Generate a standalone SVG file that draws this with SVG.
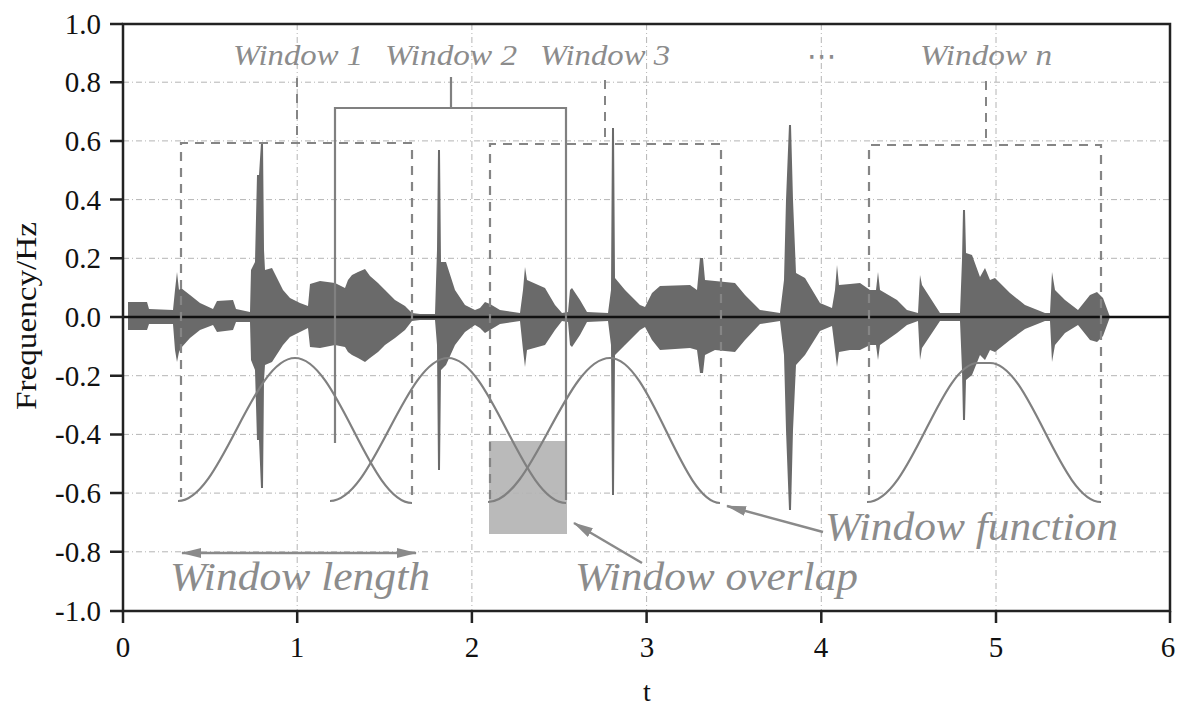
<svg xmlns="http://www.w3.org/2000/svg" width="1182" height="713" viewBox="0 0 1182 713">
<style>
.grid{stroke:#b4b4b4;stroke-width:1;stroke-dasharray:6 3 1 3;fill:none}
.win{stroke:#858585;stroke-width:2.2;stroke-dasharray:9 7;fill:none}
.wconn{stroke:#858585;stroke-width:2;stroke-dasharray:9 7;fill:none}
.curve{stroke:#808080;stroke-width:2.2;fill:none}
.brk{stroke:#808080;stroke-width:2.2;fill:none}
.lbl{font-family:'Liberation Serif','LiberationSerif','Times New Roman',Times,serif;font-style:italic;fill:#8c8c8c}
.tick{font-family:'Liberation Serif','LiberationSerif','Times New Roman',Times,serif;font-size:29px;fill:#111}
.arr{stroke:#8a8a8a;stroke-width:2.5;fill:none}
.ax{stroke:#222;stroke-width:2.5;fill:none}
</style>
<defs>
<marker id="ah" viewBox="0 0 20 10" refX="19" refY="5" markerWidth="20" markerHeight="10" markerUnits="userSpaceOnUse" orient="auto-start-reverse">
<path d="M0,0 L20,5 L0,10 Z" fill="#8a8a8a"/>
</marker>
</defs>
<rect width="1182" height="713" fill="#fff"/>

<g id="overlap-box"><rect x="489" y="441" width="78" height="93" fill="#bababa"/></g>

<g id="grid">
<path class="grid" d="M123,82.2H1170M123,140.9H1170M123,199.6H1170M123,258.3H1170M123,375.7H1170M123,434.4H1170M123,493.1H1170M123,551.8H1170"/>
<path class="grid" d="M297.2,24V611M471.9,24V611M646.6,24V611M821.3,24V611M996,24V611"/>
</g>

<g id="signal">
<polygon fill="#6a6a6a" points="128,317 128,302 147,302 149,309 173,310 175,290 177,272 179,290 181,288 190,295 200,303 213,309 217,301 233,300 236,309 250,312 251,270 255,262 257,175 259,175 261,143 263,143 264,250 265,270 272,268 283,290 290,298 300,303 308,306 310,284 320,281 335,283 345,288 348,280 352,275 358,272 365,269 370,276 378,283 385,290 395,300 405,306 412,313 420,314 435,314 437,250 438,150 440,150 441,262 446,262 455,290 465,305 475,310 480,308 485,302 490,304 500,310 520,313 523,290 525,267 527,280 545,288 555,305 562,313 568,312 570,290 572,288 580,300 587,312 608,313 611,290 612,128 614,128 615,278 625,290 640,305 645,307 652,293 660,286 690,285 697,290 700,258 703,258 705,280 715,281 735,283 745,295 760,310 780,313 784,280 786,200 789,125 791,125 793,200 796,273 805,278 820,303 832,308 835,290 837,265 839,285 850,284 860,283 870,290 876,290 878,272 880,290 897,300 907,310 918,313 920,275 922,285 940,313 960,313 962,260 963,210 965,210 966,253 972,255 980,277 985,268 990,280 995,278 1010,293 1025,305 1045,313 1050,313 1052,272 1055,290 1065,300 1078,310 1082,305 1090,295 1097,292 1103,298 1110,317 1103,336 1097,342 1090,340 1082,330 1078,325 1065,333 1055,345 1052,362 1050,321 1045,321 1025,329 1010,340 995,352 990,350 985,360 980,355 972,375 966,380 965,420 963,420 962,370 960,321 940,321 922,348 920,360 918,321 907,325 897,333 880,345 878,360 876,345 870,345 860,350 850,350 839,352 837,367 835,350 832,326 820,331 805,355 796,365 793,430 791,510 789,510 786,430 784,355 780,321 760,324 745,340 735,352 715,350 705,355 703,373 700,373 697,350 690,348 660,350 652,340 645,327 640,330 625,345 615,355 614,495 612,495 611,345 608,321 587,322 580,335 572,347 570,345 568,322 562,321 555,330 545,345 527,350 525,367 523,350 520,321 500,324 490,330 485,333 480,328 475,325 465,332 455,345 446,365 441,370 440,470 438,470 437,345 435,320 420,320 412,321 405,330 395,338 385,345 378,352 370,358 365,362 358,358 352,355 348,352 345,347 335,345 320,348 310,347 308,328 300,332 290,337 283,345 272,362 265,365 264,380 263,488 261,488 259,440 257,440 255,370 251,360 250,322 236,322 233,330 217,332 213,325 200,330 190,338 181,348 179,352 177,362 175,350 173,324 149,324 147,330 128,330"/>
</g>

<g id="axes">
<line x1="123" y1="317" x2="1170" y2="317" stroke="#111" stroke-width="2.5"/>
<rect class="ax" x="123" y="24" width="1047" height="587"/>
<path class="ax" d="M110,24H123M110,82.2H123M110,140.9H123M110,199.6H123M110,258.3H123M110,317H123M110,375.7H123M110,434.4H123M110,493.1H123M110,551.8H123M110,611H123"/>
<path class="ax" d="M123,611V623M297.2,611V623M471.9,611V623M646.6,611V623M821.3,611V623M996,611V623M1170,611V623"/>
<g class="tick" text-anchor="end">
<text x="101" y="34">1.0</text>
<text x="101" y="92">0.8</text>
<text x="101" y="151">0.6</text>
<text x="101" y="210">0.4</text>
<text x="101" y="268">0.2</text>
<text x="101" y="327">0.0</text>
<text x="101" y="386">-0.2</text>
<text x="101" y="444">-0.4</text>
<text x="101" y="503">-0.6</text>
<text x="101" y="562">-0.8</text>
<text x="101" y="621">-1.0</text>
</g>
<g class="tick" text-anchor="middle">
<text x="123" y="657">0</text>
<text x="297" y="657">1</text>
<text x="472" y="657">2</text>
<text x="647" y="657">3</text>
<text x="821" y="657">4</text>
<text x="996" y="657">5</text>
<text x="1168" y="657">6</text>
<text x="647" y="701" font-size="28">t</text>
</g>
<text class="tick" font-size="27" text-anchor="middle" transform="translate(36,316) rotate(-90)" textLength="188" lengthAdjust="spacingAndGlyphs">Frequency/Hz</text>
</g>

<g id="window1">
<path class="win" d="M181,497V143H412V497"/>
<path class="wconn" d="M297,78V143"/>
<path class="curve" d="M178,501 C220.6,501 252.4,358 295,358 C337.6,358 369.4,503 412,503"/>
<text class="lbl" x="233" y="65" font-size="30" textLength="130" lengthAdjust="spacingAndGlyphs">Window 1</text>
</g>

<g id="window2">
<path class="brk" d="M335,443V108H566V500M451,77V108"/>
<path class="curve" d="M330,501 C373,501 405,358 448,358 C491,358 523,503 566,503"/>
<text class="lbl" x="385" y="65" font-size="30" textLength="132" lengthAdjust="spacingAndGlyphs">Window 2</text>
</g>

<g id="window3">
<path class="win" d="M490,499V144H721V493"/>
<path class="wconn" d="M605,80V144"/>
<path class="curve" d="M488,502 C532.4,502 565.6,358 610,358 C650.8,358 681.2,502 720,503"/>
<text class="lbl" x="540" y="65" font-size="30" textLength="130" lengthAdjust="spacingAndGlyphs">Window 3</text>
</g>

<g id="ellipsis">
<text x="822" y="66" font-family="DejaVu Sans, sans-serif" font-size="30" fill="#8c8c8c" text-anchor="middle">⋯</text>
</g>

<g id="windown">
<path class="win" d="M869,495V145H1101V495"/>
<path class="wconn" d="M986,81V145"/>
<path class="curve" d="M867,502 C910,502 940,363 978,363 L990,363 C1030,363 1060,502 1101,502"/>
<text class="lbl" x="920" y="65" font-size="30" textLength="132" lengthAdjust="spacingAndGlyphs">Window n</text>
</g>

<g id="annotations">
<text class="lbl" x="170" y="590" font-size="40" textLength="260" lengthAdjust="spacingAndGlyphs">Window length</text>
<text class="lbl" x="575" y="590" font-size="40" textLength="283" lengthAdjust="spacingAndGlyphs">Window overlap</text>
<text class="lbl" x="825" y="540" font-size="40" textLength="293" lengthAdjust="spacingAndGlyphs">Window function</text>
</g>

<g id="connectors">
<line class="arr" x1="182" y1="553" x2="416" y2="553" marker-start="url(#ah)" marker-end="url(#ah)"/>
<line class="arr" x1="642" y1="563" x2="574" y2="523" marker-end="url(#ah)"/>
<line class="arr" x1="823" y1="532" x2="727" y2="506" marker-end="url(#ah)"/>
</g>
</svg>
